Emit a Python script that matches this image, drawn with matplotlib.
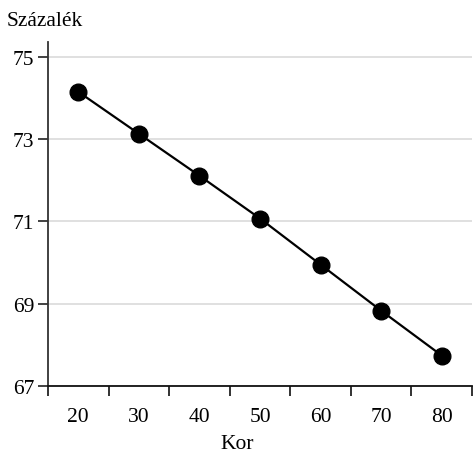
import matplotlib
matplotlib.use("Agg")
import matplotlib.pyplot as plt
import numpy as np

# Adatok
kor = ["20", "30", "40", "50", "60", "70", "80"]
szazalek = [74.15, 73.13, 72.11, 71.07, 69.95, 68.83, 67.74]
y_ticks = [67, 69, 71, 73, 75]

plt.rcParams['font.family'] = ['Liberation Serif', 'DejaVu Serif']

fig = plt.figure(figsize=(4.73, 4.56), dpi=100)
ax = fig.add_axes([0.1015, 0.1513, 0.8965, 0.7544])

x = np.arange(len(kor))
ax.plot(x, szazalek, color="black", lw=1.6, marker="o", markersize=12, zorder=3)

ax.set_xlim(-0.5, len(kor) - 0.5)
ax.set_ylim(67, 75.36)

# sávhatárokon tick, közepén felirat
ax.set_xticks(np.arange(-0.5, len(kor), 1.0))
ax.set_xticklabels([])
ax.set_xticks(x, minor=True)
ax.set_xticklabels(kor, minor=True, fontsize=15.5)
ax.tick_params(axis="x", which="major", length=7, width=1.3, color="#222222", direction="out")
ax.tick_params(axis="x", which="minor", length=0, pad=15)

ax.set_yticks(y_ticks)
ax.set_yticklabels([str(v) for v in y_ticks], fontsize=15.5)
ax.tick_params(axis="y", length=7, width=1.3, color="#333333", pad=3)

ax.grid(axis="y", color="#dddddd", lw=1.3, zorder=0)
ax.set_axisbelow(True)

for s in ["top", "right"]:
    ax.spines[s].set_visible(False)
ax.spines["left"].set_color("#333333")
ax.spines["left"].set_linewidth(1.3)
ax.spines["bottom"].set_color("#111111")
ax.spines["bottom"].set_linewidth(1.3)

fig.text(7 / 473, 1 - 22 / 456, "Százalék", fontsize=15.5, va="center", ha="left")
fig.text(237 / 473, 1 - 445 / 456, "Kor", fontsize=15.5, va="center", ha="center")

fig.savefig("out.png", dpi=100)
